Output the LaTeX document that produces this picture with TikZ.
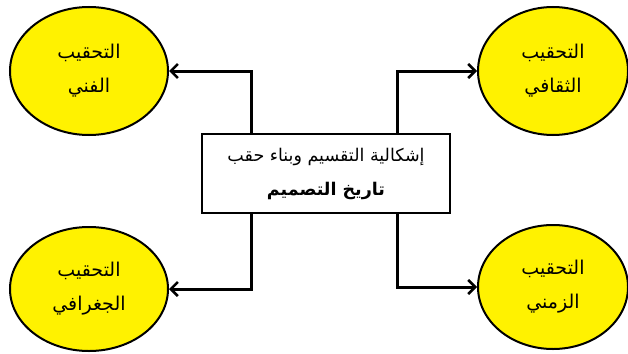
\documentclass[tikz,border=0pt]{standalone}
\usepackage{fontspec}
\usetikzlibrary{arrows.meta,shapes.geometric}
\newfontfamily\arabicfont[Script=Arabic]{DejaVu Sans}
\TeXXeTstate=1
\begin{document}
\begin{tikzpicture}[x=1pt,y=-1pt,
  bubble/.style={ellipse,draw=black,line width=2pt,fill=yellow,
    minimum width=158pt,minimum height=128pt,inner sep=0pt,
    align=center,font=\arabicfont\fontsize{19}{34}\selectfont},
  centerbox/.style={rectangle,draw=black,line width=2pt,fill=white,
    minimum width=248pt,minimum height=79pt,inner sep=0pt,
    align=center,font=\arabicfont\fontsize{17.5}{34}\selectfont},
  link/.style={line width=3pt,-{Straight Barb[length=7pt,width=14pt,line width=2.6pt]}}]
  \useasboundingbox (0,0) rectangle (628,353);
  % the central question
  \node[centerbox] (box) at (326,173.5)
    {\beginR إشكالية التقسيم وبناء حقب\endR\\\textbf{\beginR تاريخ التصميم\endR}};
  % the four periodisations
  \node[bubble] (tl) at (89,71) {\beginR التحقيب\endR\\\beginR الفني\endR};
  \node[bubble,minimum width=150pt] (tr) at (553,71) {\beginR التحقيب\endR\\\beginR الثقافي\endR};
  \node[bubble,minimum height=124pt] (bl) at (89,289) {\beginR التحقيب\endR\\\beginR الجغرافي\endR};
  \node[bubble,minimum width=150pt,minimum height=124pt] (br) at (553,287) {\beginR التحقيب\endR\\\beginR الزمني\endR};
  % connector columns
  \coordinate (lcol) at (251,0);
  \coordinate (rcol) at (397,0);
  \draw[link] (lcol |- box.north) |- (tl.east);
  \draw[link] (rcol |- box.north) |- (tr.west);
  \draw[link] (lcol |- box.south) |- (bl.east);
  \draw[link] (rcol |- box.south) |- (br.west);
\end{tikzpicture}
\end{document}
